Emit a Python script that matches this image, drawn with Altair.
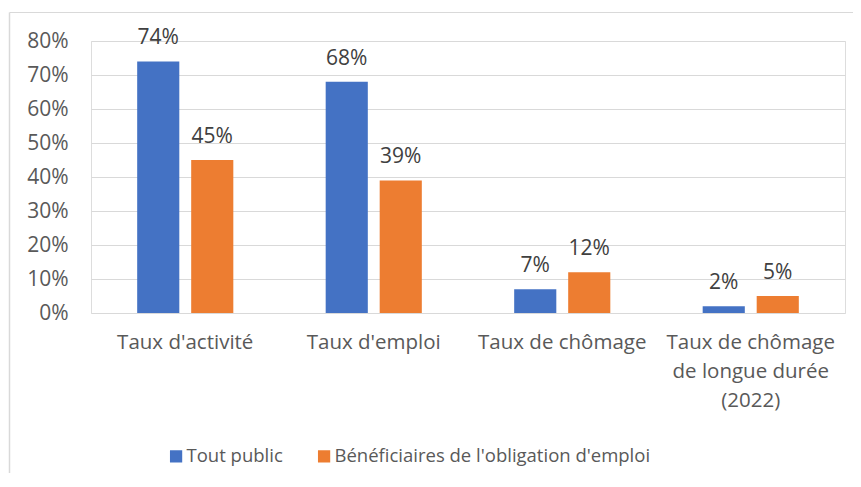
import altair as alt
import pandas as pd

categories = ["Taux d'activité", "Taux d'emploi", "Taux de chômage",
              "Taux de chômage de longue durée (2022)"]
series = ["Tout public", "Bénéficiaires de l'obligation d'emploi"]
tout_public = [0.74, 0.68, 0.07, 0.02]
beneficiaires = [0.45, 0.39, 0.12, 0.05]
y_ticks = [0.0, 0.1, 0.2, 0.3, 0.4, 0.5, 0.6, 0.7, 0.8]
colors = ["#4472C4", "#ED7D31"]

rows = []
for c, a, b in zip(categories, tout_public, beneficiaires):
    rows.append({"cat": c, "serie": series[0], "val": a})
    rows.append({"cat": c, "serie": series[1], "val": b})
df = pd.DataFrame(rows)

FONT = "Open Sans"
TXT = "#595959"

x = alt.X("cat:N", sort=categories, title=None,
          scale=alt.Scale(paddingInner=0.49, paddingOuter=0.245),
          axis=alt.Axis(labelAngle=0, domain=False, ticks=False, labelPadding=19,
                        labelFont=FONT, labelFontSize=20.5, labelColor=TXT,
                        labelLineHeight=29, labelLimit=300,
                        labelExpr="datum.value == 'Taux de chômage de longue durée (2022)' ? ['Taux de chômage', 'de longue durée', '(2022)'] : datum.label"))
xo = alt.XOffset("serie:N", sort=series, scale=alt.Scale(paddingInner=0.22))
y = alt.Y("val:Q", title=None,
          scale=alt.Scale(domain=[0, 0.8], nice=False),
          axis=alt.Axis(format=".0%", values=y_ticks, tickCount=20,
                        domain=False, ticks=False, labelPadding=23,
                        labelOverlap=False,
                        labelFont=FONT, labelFontSize=21, labelColor=TXT,
                        gridColor="#d9d9d9", gridWidth=1))
color = alt.Color("serie:N", sort=series,
                  scale=alt.Scale(domain=series, range=colors),
                  legend=alt.Legend(title=None, orient="none", direction="horizontal",
                                    legendX=74, legendY=406,
                                    symbolType="M-0.7,-1H1.3V1H-0.7Z", symbolSize=150,
                                    symbolStrokeWidth=0, labelOffset=3,
                                    columnPadding=30,
                                    labelFont=FONT, labelFontSize=18.5, labelColor=TXT,
                                    labelLimit=500))

base = alt.Chart(df)
bars = base.mark_bar().encode(x=x, xOffset=xo, y=y, color=color)
labels = base.mark_text(baseline="bottom", dy=-13, font=FONT, fontSize=21,
                        color="#404040").encode(
    x=x, xOffset=xo, y=y, text=alt.Text("val:Q", format=".0%"))

frame_df = pd.DataFrame({"k": [0]})
top_border = alt.Chart(frame_df).mark_rule(color="#d9d9d9", strokeWidth=1).encode(
    x=alt.value(-81.5), x2=alt.value(770), y=alt.value(-28.5))
left_border = alt.Chart(frame_df).mark_rule(color="#d9d9d9", strokeWidth=1.5).encode(
    x=alt.value(-81.5), y=alt.value(-28.5), y2=alt.value(446))

chart = alt.layer(bars, labels, top_border, left_border).properties(
    width=754, height=272,
    padding={"left": 83, "top": 33, "right": 8, "bottom": 160},
    autosize=alt.AutoSizeParams(type="none"),
).configure_view(stroke=None).configure(background="white")

chart.save("out.html", embed_options={"renderer": "svg", "actions": False})
